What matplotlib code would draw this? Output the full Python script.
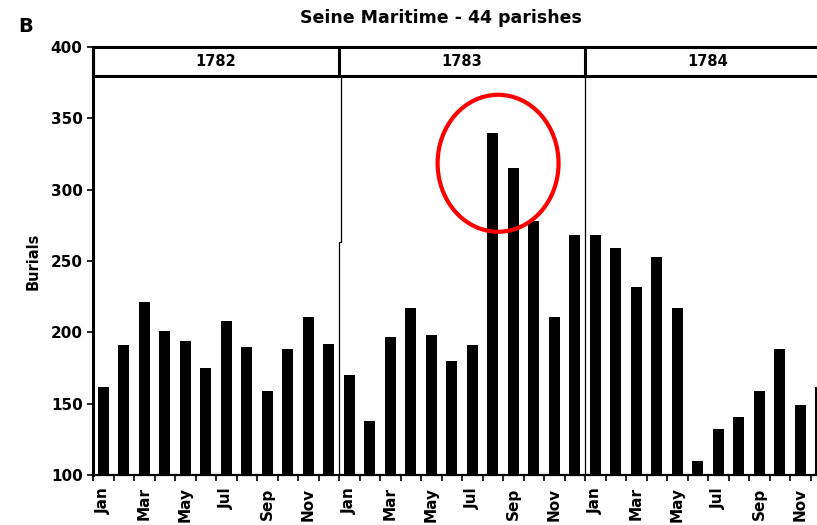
import numpy as np
import matplotlib
matplotlib.use("Agg")
import matplotlib.pyplot as plt
from matplotlib.patches import Rectangle, Ellipse

# Monthly burials, Seine Maritime (44 parishes)
months = ["Jan", "Feb", "Mar", "Apr", "May", "Jun",
          "Jul", "Aug", "Sep", "Oct", "Nov", "Dec"]
years = ["1782", "1783", "1784"]
burials_1782 = [162, 191, 221, 201, 194, 175, 208, 190, 159, 188, 211, 192]
burials_1783 = [170, 138, 197, 217, 198, 180, 191, 340, 315, 278, 211, 268]
burials_1784 = [268, 259, 232, 253, 217, 110, 132, 141, 159, 188, 149, 162]

# months singled out with a ring
highlight_year = "1783"
highlight_months = ["Aug", "Sep"]

plt.rcParams["font.family"] = ["DejaVu Sans"]
plt.rcParams["font.weight"] = "bold"

values = burials_1782 + burials_1783 + burials_1784
n = len(values)
x = np.arange(n)

fig = plt.figure(figsize=(8.17, 5.25), dpi=100)
ax = fig.add_axes([93 / 817, 50 / 525, 738 / 817, 428 / 525])

ax.bar(x, values, width=0.54, color="black", zorder=2)

ax.set_xlim(-0.5, n - 0.5)
ax.set_ylim(100, 400)

# spines
for s in ("top", "right"):
    ax.spines[s].set_visible(False)
ax.spines["left"].set_linewidth(2.2)
ax.spines["bottom"].set_linewidth(1.6)

# y axis
ax.set_yticks(np.arange(100, 401, 50))
ax.tick_params(axis="y", direction="out", length=4.5, width=1.2, pad=3,
               labelsize=11)
ax.set_ylabel("Burials", fontsize=10.5, fontweight="bold", labelpad=7)

# x axis: ticks at month boundaries, labels on every other month
ax.set_xticks(np.arange(-0.5, n, 1.0))
ax.set_xticklabels([])
ax.tick_params(axis="x", which="major", direction="out", length=4, width=1.2)
lab_pos = x[::2]
ax.set_xticks(lab_pos, minor=True)
ax.set_xticklabels([months[i % 12] for i in lab_pos], minor=True,
                   rotation=90, fontsize=11, fontweight="bold")
ax.tick_params(axis="x", which="minor", length=0, pad=9)

# year strip across the top
strip_lo, strip_hi = 380, 400
ax.add_patch(Rectangle((-0.5, strip_lo), n, strip_hi - strip_lo, fill=False,
                       edgecolor="black", linewidth=2.2, clip_on=False, zorder=3))
for k, yr in enumerate(years):
    ax.text(k * 12 + 5.5, (strip_lo + strip_hi) / 2, yr, ha="center",
            va="center", fontsize=10.5, fontweight="bold")
    if k > 0:
        b = k * 12 - 0.5
        ax.plot([b, b], [strip_lo, strip_hi], color="black", lw=2.2,
                solid_capstyle="butt", zorder=3)
        if k == 1:
            ax.plot([b, b, b + 0.1, b + 0.1], [100, 263, 263, strip_lo],
                    color="black", lw=0.9, zorder=1)
        else:
            ax.plot([b, b], [100, strip_lo], color="black", lw=0.9, zorder=1)

# ring around the late-summer peak
yi = years.index(highlight_year)
idx = [yi * 12 + months.index(m) for m in highlight_months]
cx = np.mean(idx) - 0.24
cy = np.mean([values[i] for i in idx]) - 9
ax.add_patch(Ellipse((cx, cy), 5.9, 96, fill=False, edgecolor="#ff0000",
                     linewidth=3, clip_on=False, zorder=4))

fig.text(441 / 817, 1 - 18 / 525, "Seine Maritime - 44 parishes",
         ha="center", va="center", fontsize=12.5, fontweight="bold")
fig.text(18 / 817, 1 - 32 / 525, "B", ha="left", va="baseline",
         fontsize=14, fontweight="bold")

fig.savefig("out.png", dpi=100)
